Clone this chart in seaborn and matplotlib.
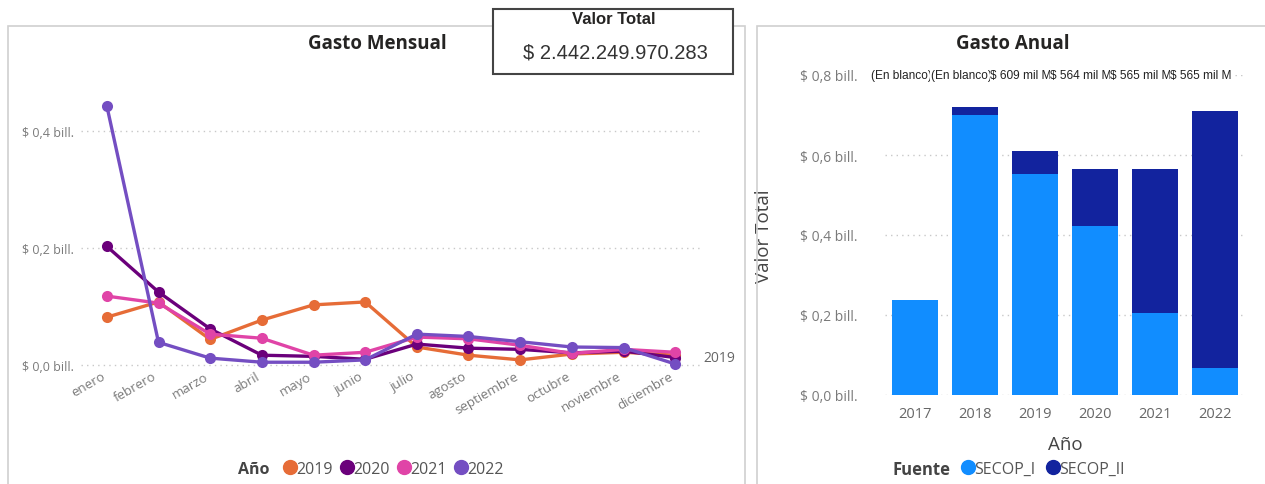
import matplotlib
matplotlib.use("Agg")
import matplotlib.pyplot as plt
import matplotlib.transforms as mtransforms
import seaborn as sns
import pandas as pd
from matplotlib.patches import Rectangle
from matplotlib.lines import Line2D

# ---------------- data ----------------
months = ["enero", "febrero", "marzo", "abril", "mayo", "junio", "julio",
          "agosto", "septiembre", "octubre", "noviembre", "diciembre"]
years = ["2019", "2020", "2021", "2022"]
gasto_2019 = [0.082, 0.108, 0.044, 0.077, 0.103, 0.108, 0.031, 0.017, 0.009, 0.019, 0.022, 0.017]
gasto_2020 = [0.203, 0.125, 0.062, 0.017, 0.015, 0.010, 0.036, 0.029, 0.027, 0.021, 0.024, 0.013]
gasto_2021 = [0.118, 0.106, 0.053, 0.046, 0.017, 0.022, 0.048, 0.045, 0.034, 0.020, 0.027, 0.022]
gasto_2022 = [0.443, 0.039, 0.012, 0.005, 0.005, 0.009, 0.053, 0.049, 0.040, 0.031, 0.030, 0.002]

anios = ["2017", "2018", "2019", "2020", "2021", "2022"]
secop_i = [0.237, 0.699, 0.552, 0.422, 0.205, 0.068]
secop_ii = [0.000, 0.022, 0.058, 0.142, 0.360, 0.641]
bar_labels = ["(En blanco)", "(En blanco)", "$ 609 mil M", "$ 564 mil M", "$ 565 mil M", "$ 565 mil M"]

total_label = "$ 2.442.249.970.283"
y_left_ticks = [0.0, 0.2, 0.4]
y_right_ticks = [0.0, 0.2, 0.4, 0.6, 0.8]

# ---------------- style ----------------
sns.set_theme(style="white")
plt.rcParams["font.family"] = ["Open Sans", "DejaVu Sans"]

year_colors = {"2019": "#E66C37", "2020": "#6B007B", "2021": "#E044A7", "2022": "#744EC2"}
c_secop_i = "#118DFF"
c_secop_ii = "#12239E"
tick_gray = "#7A7A7A"
title_col = "#252423"

W, H = 1265, 485
fig = plt.figure(figsize=(W / 100, H / 100), dpi=100)


def px_axes(x0, y0, x1, y1):
    return fig.add_axes([x0 / W, 1 - y1 / H, (x1 - x0) / W, (y1 - y0) / H])


def fx(x):
    return x / W


def fy(y):
    return 1 - y / H


# panel borders
fig.patches.append(Rectangle((fx(8), fy(490)), fx(745) - fx(8), fy(27) - fy(490),
                             transform=fig.transFigure, fill=False, ec="#D0D0D0", lw=1.2))
fig.patches.append(Rectangle((fx(757), fy(490)), fx(1270) - fx(757), fy(27) - fy(490),
                             transform=fig.transFigure, fill=False, ec="#D0D0D0", lw=1.2))

# ---------------- left: line chart ----------------
df = pd.DataFrame({
    "mes": months * 4,
    "valor": gasto_2019 + gasto_2020 + gasto_2021 + gasto_2022,
    "Año": sum([[y] * 12 for y in years], []),
})
df["idx"] = df["mes"].map({m: i for i, m in enumerate(months)})

ax1 = px_axes(81, 97, 701, 372)
sns.lineplot(data=df, x="idx", y="valor", hue="Año", palette=year_colors, ax=ax1,
             marker="o", markersize=8, markeredgewidth=0, linewidth=2.4, legend=False)
ax1.set_xlim(-0.5, 11.5)
ax1.set_ylim(-0.01, 0.46)
ax1.tick_params(axis="x", length=0, pad=3)
ax1.tick_params(axis="y", length=0, pad=5)
ax1.set_xticks(range(12))
ax1.set_xticklabels(months, rotation=30, ha="right", rotation_mode="anchor",
                    color=tick_gray, fontsize=9.5)
offset = mtransforms.ScaledTranslation(-6 / 100, 6 / 100, fig.dpi_scale_trans)
for t in ax1.xaxis.get_major_ticks():
    t.label1.set_transform(t.label1.get_transform() + offset)
ax1.set_yticks(y_left_ticks)
ax1.set_yticklabels([f"$ {v:.1f} bill.".replace(".", ",", 1) for v in y_left_ticks],
                    color=tick_gray, fontsize=9)
ax1.grid(axis="y", linestyle=(0, (1, 3)), color="#C8C8C8", lw=1)
ax1.set_axisbelow(True)
for s in ax1.spines.values():
    s.set_visible(False)
ax1.set_xlabel("")
ax1.set_ylabel("")
ax1.patch.set_alpha(0)
fig.text(fx(377), fy(44), "Gasto Mensual", ha="center", va="center",
         fontsize=13.5, fontweight="bold", color=title_col)
fig.text(fx(703), fy(359), "2019", ha="left", va="center", fontsize=10, color="#666666")

# left legend
fig.text(fx(270), fy(470), "Año", ha="right", va="center", fontsize=11.5,
         fontweight="bold", color="#444444")
handles = [Line2D([], [], marker="o", ls="", color=year_colors[y], markersize=10) for y in years]
fig.legend(handles, years, loc="center left", bbox_to_anchor=(fx(272), fy(470)), ncol=4,
           frameon=False, handletextpad=-0.2, columnspacing=0.3, fontsize=11.5,
           labelcolor="#555555", borderpad=0, handlelength=1.2)

# ---------------- right: stacked bars ----------------
dfb = pd.DataFrame({"Año": anios, "SECOP_I": secop_i, "SECOP_II": secop_ii})
dfb["total"] = dfb["SECOP_I"] + dfb["SECOP_II"]

ax2 = px_axes(885, 76, 1245, 396)
sns.barplot(data=dfb, x="Año", y="total", color=c_secop_ii, saturation=1, width=0.77,
            linewidth=0, ax=ax2)
sns.barplot(data=dfb, x="Año", y="SECOP_I", color=c_secop_i, saturation=1, width=0.77,
            linewidth=0, ax=ax2)
ax2.set_xlim(-0.5, 5.5)
ax2.set_ylim(0, 0.8)
ax2.set_yticks(y_right_ticks)
ax2.set_yticklabels([f"$ {v:.1f} bill.".replace(".", ",", 1) for v in y_right_ticks],
                    color=tick_gray, fontsize=10)
ax2.tick_params(axis="y", length=0, pad=20)
ax2.tick_params(axis="x", length=0, pad=8, labelsize=10.5, labelcolor="#666666")
ax2.grid(axis="y", linestyle=(0, (1, 3)), color="#C8C8C8", lw=1)
ax2.set_axisbelow(True)
for s in ax2.spines.values():
    s.set_visible(False)
ax2.set_xlabel("Año", fontsize=13.5, color="#444444", labelpad=10)
ax2.set_ylabel("Valor Total", fontsize=13.5, color="#444444", labelpad=0)
ax2.yaxis.set_label_coords((773 - 885) / 360, 0.5)
ax2.patch.set_alpha(0)
for i, lab in enumerate(bar_labels):
    ax2.text(i - 0.23, 0.8, lab, ha="center", va="center", fontsize=8.6,
             family="Liberation Sans", color="#222222", clip_on=False,
             bbox=dict(boxstyle="square,pad=0.05", fc="white", ec="none"))
fig.text(fx(1013), fy(44), "Gasto Anual", ha="center", va="center",
         fontsize=13.5, fontweight="bold", color=title_col)

fig.text(fx(950), fy(470), "Fuente", ha="right", va="center", fontsize=12,
         fontweight="bold", color="#444444")
h2 = [Line2D([], [], marker="o", ls="", color=c, markersize=10) for c in (c_secop_i, c_secop_ii)]
fig.legend(h2, ["SECOP_I", "SECOP_II"], loc="center left", bbox_to_anchor=(fx(950), fy(470)),
           ncol=2, frameon=False, handletextpad=-0.2, columnspacing=0.5, fontsize=11.5,
           labelcolor="#555555", borderpad=0, handlelength=1.2)

# ---------------- card ----------------
fig.patches.append(Rectangle((fx(493), fy(75)), fx(733) - fx(493), fy(10) - fy(75),
                             transform=fig.transFigure, fc="white", ec="#444444", lw=1.5, zorder=5))
fig.text(fx(614), fy(20), "Valor Total", ha="center", va="center", fontsize=12,
         fontweight="bold", family="Liberation Sans", color="#252423", zorder=6)
fig.text(fx(615), fy(53), total_label, ha="center", va="center", fontsize=14.5,
         family="Liberation Sans", color="#333333", zorder=6)

fig.savefig("out.png", dpi=100)
